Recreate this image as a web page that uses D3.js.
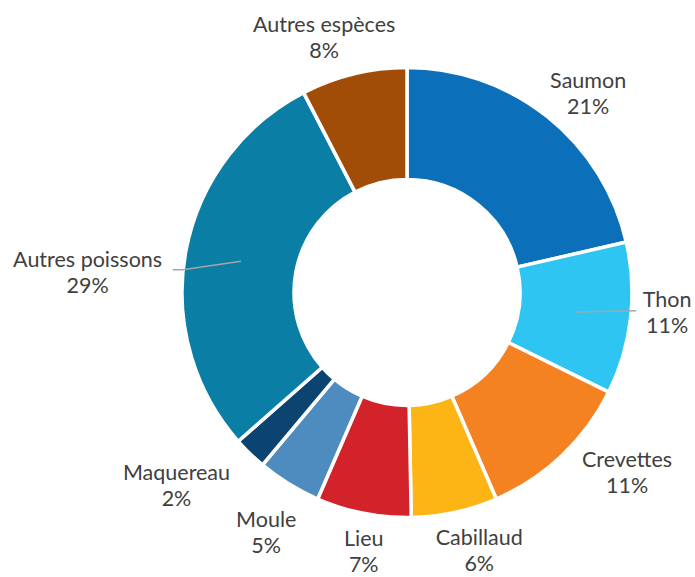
<!DOCTYPE html>
<html>
<head>
<meta charset="utf-8">
<script src="https://cdn.jsdelivr.net/npm/d3@7"></script>
<style>
  body { margin: 0; background: #fff; }
  svg { display: block; }
</style>
</head>
<body>
<div id="chart-area"></div>
<script>
// Espèces consommées (part en %)
var species = ["Saumon", "Thon", "Crevettes", "Cabillaud", "Lieu", "Moule", "Maquereau", "Autres poissons", "Autres espèces"];
var shares = [21.4, 10.9, 11.2, 6.2, 6.8, 4.6, 2.4, 28.9, 7.6];
var colors = ["#0b6fba", "#2ec5f3", "#f58220", "#fdb515", "#d2232a", "#4e8bbf", "#0b4470", "#0a7ea4", "#a14d07"];

// label nudges (dx, dy) from the point at radius labelRadius, and optional leader
var labelNudge = {
    "Saumon": [13, 11],
    "Thon": [-8, -13],
    "Crevettes": [34, -17],
    "Cabillaud": [15, -7],
    "Lieu": [9, -7],
    "Moule": [1, 9],
    "Maquereau": [-42, -2],
    "Autres poissons": [-54, 28],
    "Autres espèces": [-19, 6]
};
var leaders = {
    "Thon": { elbow: [-31, 0], end: [-31, 0] },
    "Autres poissons": { elbow: [95, -1], end: [85, -1] }
};

var width = 695, height = 577;
var cx = 407, cy = 292.5;
var outer = 225, inner = 113, labelRadius = 270;

var svg = d3.select("#chart-area").append("svg")
    .attr("width", width)
    .attr("height", height);

var g = svg.append("g").attr("transform", "translate(" + cx + ", " + cy + ")");

var data = species.map((s, i) => ({ name: s, value: shares[i], color: colors[i] }));
var total = d3.sum(shares);

var pie = d3.pie().sort(null).value((d) => d.value).startAngle(0).endAngle(2 * Math.PI);
var arc = d3.arc().innerRadius(inner).outerRadius(outer);
var arcs = pie(data);

g.selectAll("path.slice")
    .data(arcs)
    .enter().append("path")
    .attr("class", "slice")
    .attr("d", arc)
    .attr("fill", (d) => d.data.color)
    .attr("stroke", "#fff")
    .attr("stroke-width", 3.5)
    .attr("stroke-linejoin", "miter");

function labelPos(d) {
    var a = (d.startAngle + d.endAngle) / 2;
    var n = labelNudge[d.data.name];
    return [labelRadius * Math.sin(a) + n[0], -labelRadius * Math.cos(a) + n[1]];
}

// leader lines
arcs.forEach((d) => {
    var l = leaders[d.data.name];
    if (!l) return;
    var c = arc.centroid(d);
    var p = labelPos(d);
    var pts = [c, [p[0] + l.elbow[0], p[1] + l.elbow[1]], [p[0] + l.end[0], p[1] + l.end[1]]];
    g.append("polyline")
        .attr("points", pts.map((q) => q.join(",")).join(" "))
        .attr("fill", "none")
        .attr("stroke", "#a6a6a6")
        .attr("stroke-width", 1.5);
});

var labels = g.selectAll("text.label")
    .data(arcs)
    .enter().append("text")
    .attr("class", "label")
    .attr("text-anchor", "middle")
    .attr("font-family", "Lato, 'Open Sans', sans-serif")
    .attr("font-size", "21.5px")
    .style("fill", "#404040")
    .attr("transform", (d) => "translate(" + labelPos(d).join(",") + ")");

labels.append("tspan")
    .attr("x", 0)
    .attr("y", -4)
    .text((d) => d.data.name);

labels.append("tspan")
    .attr("x", 0)
    .attr("y", 22)
    .text((d) => Math.round(d.data.value / total * 100) + "%");
</script>
</body>
</html>
